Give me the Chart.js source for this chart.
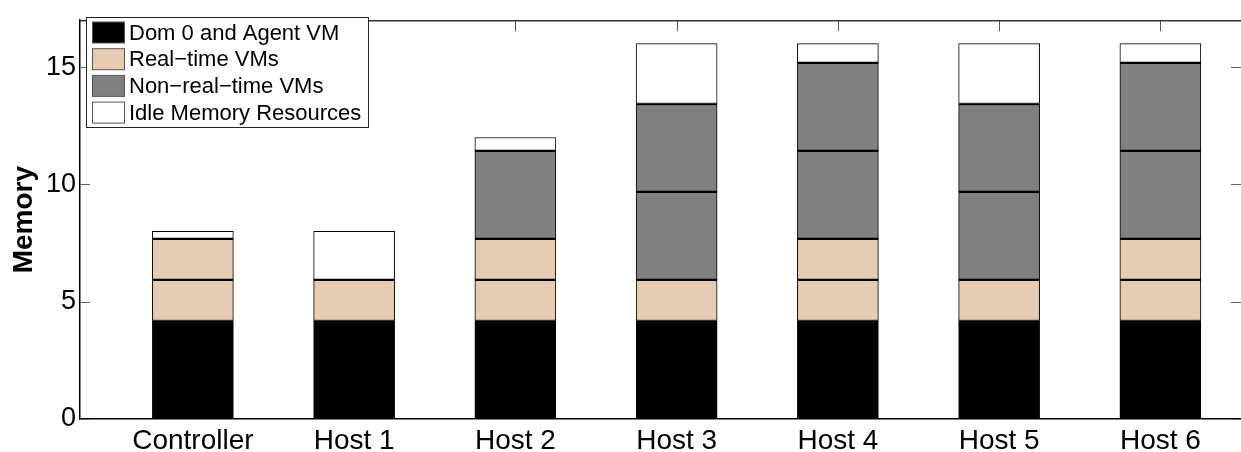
<!DOCTYPE html>
<html>
<head>
<meta charset="utf-8">
<script src="https://cdn.jsdelivr.net/npm/chart.js@4/dist/chart.umd.min.js"></script>
<style>
  html, body { margin: 0; padding: 0; background: #fff; }
  #cadre { width: 1241px; height: 452px; position: relative; }
</style>
</head>
<body>
<div id="cadre"><canvas id="graphe-memoire"></canvas></div>
<script>
// --- Données ---
const machines = ['Controller', 'Host 1', 'Host 2', 'Host 3', 'Host 4', 'Host 5', 'Host 6'];
const dom0     = [4.2, 4.2, 4.2, 4.2, 4.2, 4.2, 4.2];
const tempsReel1 = [1.75, 1.75, 1.75, 1.75, 1.75, 1.75, 1.75];
const tempsReel2 = [1.75, null, 1.75, null, 1.75, null, 1.75];
const nonTempsReel1 = [null, null, 3.75, 3.75, 3.75, 3.75, 3.75];
const nonTempsReel2 = [null, null, null, 3.75, 3.75, 3.75, 3.75];
const inactif  = [0.3, 2.05, 0.55, 2.55, 0.8, 2.55, 0.8];
const graduationsY = [0, 5, 10, 15];

const POLICE = '"Liberation Sans", Arial, Helvetica, sans-serif';
const NOIR = '#000000', PECHE = '#e5cbb1', GRIS = '#808080', BLANC = '#ffffff';

const serie = (valeurs) => valeurs.map((v, i) => ({ x: i + 1, y: v }));
const segment = (label, valeurs, couleur, legende, haut = 2) => ({
    label,
    data: serie(valeurs),
    backgroundColor: couleur,
    borderColor: '#000',
    borderWidth: { top: haut, bottom: 1, left: 1, right: 1 },
    borderSkipped: false,
    barThickness: 81,
    legende,
});

const datasets = [
    segment('Dom 0 and Agent VM', dom0, NOIR, true),
    segment('Real\u2212time VMs', tempsReel1, PECHE, true),
    segment('Real\u2212time VMs (2)', tempsReel2, PECHE, false),
    segment('Non\u2212real\u2212time VMs', nonTempsReel1, GRIS, true),
    segment('Non\u2212real\u2212time VMs (2)', nonTempsReel2, GRIS, false),
    segment('Idle Memory Resources', inactif, BLANC, true, 1),
];

// cadre façon Matlab : ligne du haut + graduations vers l'intérieur
const cadreMatlab = {
    id: 'cadreMatlab',
    beforeDatasetsDraw(chart) {
        const { ctx, chartArea: a, scales: { x, y } } = chart;
        ctx.save();
        ctx.strokeStyle = '#666';
        ctx.lineWidth = 1;
        ctx.beginPath();
        graduationsY.forEach((v) => {
            const py = Math.round(y.getPixelForValue(v)) + 0.5;
            ctx.moveTo(a.left, py); ctx.lineTo(a.left + 10, py);
            ctx.moveTo(a.right, py); ctx.lineTo(a.right - 10, py);
        });
        machines.forEach((_, i) => {
            const px = Math.round(x.getPixelForValue(i + 1)) + 0.5;
            ctx.moveTo(px, a.bottom); ctx.lineTo(px, a.bottom - 10);
        });
        ctx.stroke();
        ctx.restore();
    },
    afterDatasetsDraw(chart) {
        const { ctx, chartArea: a, scales: { x } } = chart;
        ctx.save();
        ctx.strokeStyle = '#555';
        ctx.lineWidth = 1;
        ctx.beginPath();
        machines.forEach((_, i) => {
            const px = Math.round(x.getPixelForValue(i + 1)) + 0.5;
            ctx.moveTo(px, a.top); ctx.lineTo(px, a.top + 11);
        });
        ctx.stroke();
        ctx.strokeStyle = '#333';
        ctx.lineWidth = 1.5;
        ctx.beginPath();
        ctx.moveTo(a.left, a.top + 0.5); ctx.lineTo(a.right, a.top + 0.5);
        ctx.stroke();
        ctx.restore();
    },
    afterDraw(chart) {
        // légende encadrée, en haut à gauche du graphe
        const { ctx } = chart;
        const items = chart.data.datasets.filter((d) => d.legende);
        const x0 = 86, y0 = 17, largeur = 282, hauteur = 110, pas = 26.7;
        ctx.save();
        ctx.fillStyle = '#fff';
        ctx.fillRect(x0, y0, largeur, hauteur);
        ctx.strokeStyle = '#222';
        ctx.lineWidth = 1;
        ctx.strokeRect(x0 + 0.5, y0 + 0.5, largeur, hauteur);
        ctx.font = '22px ' + POLICE;
        ctx.textBaseline = 'middle';
        items.forEach((d, i) => {
            const cy = y0 + 15.5 + i * pas;
            ctx.fillStyle = d.backgroundColor;
            ctx.fillRect(92.5, cy - 10.5, 32, 21);
            ctx.strokeStyle = '#555';
            ctx.strokeRect(92.5, cy - 10.5, 32, 21);
            ctx.fillStyle = '#000';
            ctx.fillText(d.label, 129, cy + 1);
        });
        ctx.restore();
    },
};

new Chart(document.getElementById('graphe-memoire'), {
    type: 'bar',
    data: { datasets },
    plugins: [cadreMatlab],
    options: {
        responsive: true,
        maintainAspectRatio: false,
        animation: false,
        layout: { padding: { top: 12, right: 0, left: 0, bottom: 0 } },
        plugins: { legend: { display: false }, tooltip: { enabled: true } },
        scales: {
            x: {
                type: 'linear',
                stacked: true,
                offset: false,
                min: 0.3,
                max: 7.5,
                afterBuildTicks: (s) => { s.ticks = machines.map((_, i) => ({ value: i + 1 })); },
                afterFit: (s) => { s.height = 33; },
                grid: { display: false, drawTicks: false },
                border: { display: true, color: '#000', width: 1.5 },
                ticks: {
                    padding: 5,
                    color: '#000',
                    font: { family: POLICE, size: 28 },
                    callback: (v) => machines[v - 1] ?? '',
                },
            },
            y: {
                stacked: true,
                min: 0,
                max: 17,
                afterBuildTicks: (s) => { s.ticks = graduationsY.map((v) => ({ value: v })); },
                afterFit: (s) => { s.width = 80; },
                grid: { display: false, drawTicks: false },
                border: { display: true, color: '#000', width: 1.5 },
                ticks: {
                    padding: 4,
                    color: '#000',
                    font: { family: POLICE, size: 27 },
                },
                title: {
                    display: true,
                    text: 'Memory',
                    color: '#000',
                    padding: { top: 7, bottom: 0 },
                    font: { family: POLICE, size: 28, weight: 'bold' },
                },
            },
        },
    },
});
</script>
</body>
</html>
